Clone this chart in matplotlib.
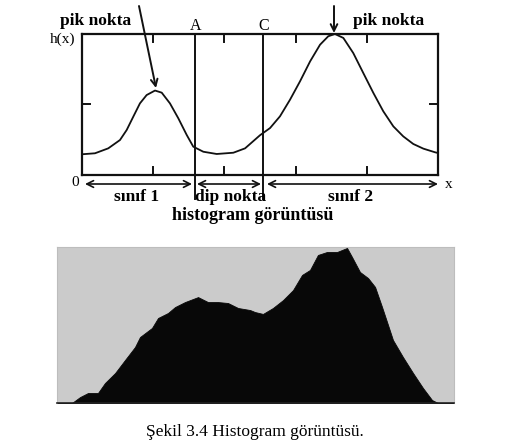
import matplotlib
matplotlib.use("Agg")
import matplotlib.pyplot as plt

# ---- data: schematic bimodal histogram h(x) (gray level 0..255, height %)
curve_x = [0, 9.3, 18.8, 27.2, 32.0, 36.7, 41.5, 46.3, 52.3, 57.1, 63.0, 69.0,
           75.0, 79.7, 86.9, 96.5, 108.4, 116.8, 127.5, 134.7, 141.8, 149.0,
           156.2, 163.4, 170.5, 176.4, 181.2, 187.2, 194.3, 201.5, 208.7, 215.8,
           223.0, 230.1, 237.3, 244.5, 252.9, 255]
curve_h = [14.7, 15.4, 18.9, 24.8, 31.9, 41.3, 50.8, 56.7, 59.9, 58.4, 50.8, 40.2,
           28.4, 20.1, 16.5, 14.9, 15.8, 18.9, 28.2, 33.3, 41.6, 53.4,
           66.5, 80.6, 92.4, 98.4, 100.0, 97.2, 86.5, 72.3, 58.2, 45.2,
           34.5, 27.4, 22.0, 18.7, 16.1, 15.6]
threshold_A = 80.6
threshold_C = 130.0
tick_x = [51, 102, 153, 204]
tick_h = [50]

# ---- data: image histogram (gray level bins, relative count %)
hist_x = [0, 9.6, 14.8, 19.9, 26.3, 30.8, 37.3, 43.7, 50.1, 53.3, 61.0, 64.9, 71.3,
          75.8, 82.2, 90.6, 97.0, 103.4, 109.8, 116.3, 124.0, 127.2, 132.3, 138.7,
          145.2, 151.6, 157.4, 162.5, 167.6, 173.4, 179.9, 186.3, 189.5, 194.6,
          199.8, 204.3, 208.8, 212.0, 215.8, 222.2, 228.7, 235.1, 240.9, 244.7, 255]
hist_h = [0, 0, 3.8, 6.4, 6.4, 12.8, 19.2, 27.6, 35.9, 42.3, 48.1, 54.5, 57.7,
          61.5, 64.7, 67.9, 64.7, 64.7, 64.1, 60.9, 59.6, 58.3, 57.1, 60.9,
          66.0, 72.4, 82.1, 85.3, 94.9, 96.8, 96.8, 99.4, 93.6, 84.0,
          80.1, 74.4, 61.5, 51.9, 40.4, 29.5, 19.2, 9.6, 1.9, 0, 0]

W, H = 513, 442
fig = plt.figure(figsize=(W / 100, H / 100), dpi=100)
fig.patch.set_facecolor("white")

def fx(px):
    return px / W

def fy(py):
    return 1 - py / H

serif_b = dict(family="Liberation Serif", fontweight="bold", color="black")
serif = dict(family="Liberation Serif", color="black")

# ---------------- top diagram ----------------
L, R, T, B = 82, 438, 34, 175
ax = fig.add_axes([fx(L), fy(B), fx(R - L), (B - T) / H])
ax.set_xlim(0, 255)
ax.set_ylim(0, 100)
for s in ax.spines.values():
    s.set_linewidth(1.6)
    s.set_color("#111111")
ax.set_xticks([])
ax.set_yticks([])
ax.plot(curve_x, curve_h, color="#111111", lw=1.3, clip_on=False,
        solid_joinstyle="round")

# ticks (inward)
for t in tick_x:
    ax.plot([t, t], [100, 94], color="#111111", lw=1.4)
    ax.plot([t, t], [0, 6], color="#111111", lw=1.4)
for t in tick_h:
    ax.plot([0, 6], [t, t], color="#111111", lw=1.4)
    ax.plot([255, 249], [t, t], color="#111111", lw=1.4)

# threshold lines
for v in (threshold_A, threshold_C):
    ax.plot([v, v], [100, -17], color="#111111", lw=1.4, clip_on=False)

# overlay canvas in pixel coordinates for labels and arrows
cv = fig.add_axes([0, 0, 1, 1], facecolor="none")
cv.set_xlim(0, W)
cv.set_ylim(H, 0)
cv.axis("off")

fs = 12.5
cv.text(96, 21, "pik nokta", ha="center", va="center", fontsize=fs, **serif_b)
cv.text(389, 21, "pik nokta", ha="center", va="center", fontsize=fs, **serif_b)
cv.text(196, 26, "A", ha="center", va="center", fontsize=11.5, **serif)
cv.text(264, 26, "C", ha="center", va="center", fontsize=11.5, **serif)
cv.text(63, 39, "h(x)", ha="center", va="center", fontsize=11, **serif)
cv.text(75, 183, "0", ha="center", va="center", fontsize=11, **serif)
cv.text(449, 184, "x", ha="center", va="center", fontsize=11, **serif)
cv.text(137, 197, "sınıf 1", ha="center", va="center", fontsize=fs, **serif_b)
cv.text(231, 197, "dip nokta", ha="center", va="center", fontsize=fs, **serif_b)
cv.text(351, 197, "sınıf 2", ha="center", va="center", fontsize=fs, **serif_b)
cv.text(253, 216, "histogram görüntüsü", ha="center", va="center", fontsize=fs + 0.5, **serif_b)

ap = dict(arrowstyle="->", color="#111111", lw=1.4, mutation_scale=12,
          shrinkA=0, shrinkB=0)
cv.annotate("", xy=(156, 88), xytext=(139, 6), arrowprops=ap)
cv.annotate("", xy=(334, 33), xytext=(334, 6), arrowprops=ap)

dap = dict(arrowstyle="<->", color="#111111", lw=1.2, mutation_scale=12,
           shrinkA=0, shrinkB=0)
cv.annotate("", xy=(85, 184), xytext=(192, 184), arrowprops=dap)
cv.annotate("", xy=(197, 184), xytext=(261, 184), arrowprops=dap)
cv.annotate("", xy=(267, 184), xytext=(438, 184), arrowprops=dap)

# ---------------- bottom histogram ----------------
hL, hR, hT, hB = 57, 454, 247, 403
ax2 = fig.add_axes([fx(hL), fy(hB), fx(hR - hL), (hB - hT) / H])
ax2.set_facecolor("#cbcbcb")
ax2.set_xlim(0, 255)
ax2.set_ylim(0, 100)
ax2.fill_between(hist_x, 0, hist_h, color="#080808", lw=0.6, edgecolor="#080808")
ax2.set_xticks([])
ax2.set_yticks([])
for k, s in ax2.spines.items():
    s.set_color("#bdbdbd")
    s.set_linewidth(0.8)
ax2.spines["bottom"].set_color("#222222")
ax2.spines["bottom"].set_linewidth(1.2)

cv.text(255, 432, "Şekil 3.4 Histogram görüntüsü.", ha="center", va="center",
        fontsize=12.5, **serif)

fig.savefig("out.png", dpi=100)
